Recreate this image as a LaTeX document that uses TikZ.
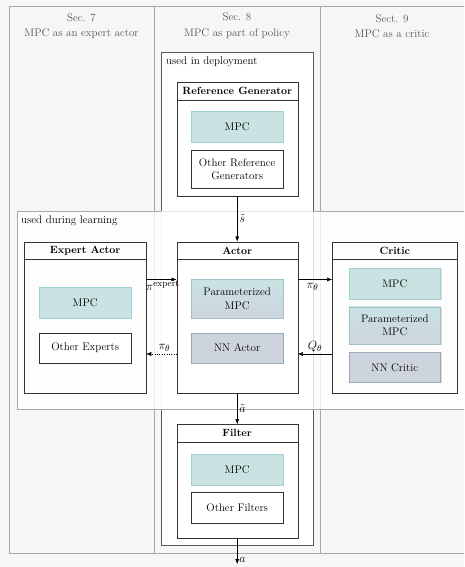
\documentclass[tikz,border=0pt]{standalone}
\usetikzlibrary{arrows.meta,positioning,calc,shadows}
\definecolor{bggray}{HTML}{F6F6F6}
\definecolor{colline}{HTML}{A8A8A8}
\definecolor{headtext}{HTML}{555555}
\definecolor{mpcfill}{HTML}{C9E3E3}
\definecolor{mpcdraw}{HTML}{A3D2D3}
\definecolor{nnfill}{HTML}{CDD4DD}
\definecolor{nndraw}{HTML}{9DA8B4}

\begin{document}
\begin{tikzpicture}[x=1pt,y=-1pt,>={Latex[length=5pt,width=4pt]},
    every node/.style={font=\fontsize{11}{13.5}\selectfont,align=center},
    column/.style={draw=colline,fill=bggray},
    head/.style={text=headtext,font=\fontsize{11}{15.5}\selectfont},
    area/.style={draw=colline,fill=white},
    arealabel/.style={anchor=north west,inner sep=2pt},
    block/.style={draw=black!80,minimum width=121pt},
    blocktitle/.style={anchor=north,minimum height=17.6pt,inner sep=0pt,font=\fontsize{10.5}{13}\selectfont\bfseries},
    inner/.style={minimum width=91.7pt,inner sep=1pt,
      drop shadow={shadow xshift=1pt,shadow yshift=-1pt,opacity=0.25}},
    mpc/.style={inner,draw=mpcdraw,fill=mpcfill},
    pmpc/.style={inner,draw=mpcdraw!60!nndraw,top color=mpcfill,bottom color=nnfill},
    nn/.style={inner,draw=nndraw,fill=nnfill},
    other/.style={inner,draw=black!80,fill=white},
    sig/.style={font=\fontsize{12.5}{14}\selectfont,inner sep=2pt}]
    \clip (0,0) rectangle (464,567);
    \fill[bggray] (0,0) rectangle (464,567);

    \draw[column] (9,6) rectangle (154,553);
    \draw[column] (154,6) rectangle (320,553);
    \draw[column] (320,6) rectangle (480,553);
    \node[head] (h7) at (81.5,26) {Sec. 7\\MPC as an expert actor};
    \node[head] (h8) at (237,26) {Sec. 8\\MPC as part of policy};
    \node[head] (h9) at (392,26) {Sect. 9\\MPC as a critic};

    \draw[area,draw=black!65] (161,52) rectangle (313,545);
    \node[arealabel] (dep) at (164,55) {used in deployment};
    \draw[area,fill opacity=0.8] (17,211) rectangle (480,409);
    \fill[white,opacity=0.7] (161,211) rectangle (313,409);
    \node[arealabel] (learn) at (19,214) {used during learning};

    \node[block,minimum height=113.4pt] (refgen) at (237.2,139) {};
    \node[blocktitle] (refgent) at (refgen.north) {Reference Generator};
    \draw[black!80] (refgent.south -| refgen.west) -- (refgent.south -| refgen.east);
    \node[mpc,minimum height=31.3pt] (rgmpc) at (237.2,126.7) {MPC};
    \node[other,minimum height=38.3pt] (rgother) at (237.2,169.2) {Other Reference\\Generators};

    \node[block,minimum height=151.6pt] (actor) at (237.2,317.5) {};
    \node[blocktitle] (actort) at (actor.north) {Actor};
    \draw[black!80] (actort.south -| actor.west) -- (actort.south -| actor.east);
    \node[pmpc,minimum height=39pt] (acpmpc) at (237.2,298.8) {Parameterized\\MPC};
    \node[nn,minimum height=30.6pt] (acnn) at (237.2,348) {NN Actor};

    \node[block,minimum width=121.7pt,minimum height=151.6pt] (expert) at (85.2,317.5) {};
    \node[blocktitle] (expertt) at (expert.north) {Expert Actor};
    \draw[black!80] (expertt.south -| expert.west) -- (expertt.south -| expert.east);
    \node[mpc,minimum height=31pt] (exmpc) at (85.2,302.8) {MPC};
    \node[other,minimum height=30.6pt] (exother) at (85.2,348) {Other Experts};

    \node[block,minimum width=125pt,minimum height=151.6pt] (critic) at (394.8,317.5) {};
    \node[blocktitle] (critict) at (critic.north) {Critic};
    \draw[black!80] (critict.south -| critic.west) -- (critict.south -| critic.east);
    \node[mpc,minimum height=30.7pt] (crmpc) at (394.8,283.7) {MPC};
    \node[pmpc,minimum height=37.6pt] (crpmpc) at (394.8,325.5) {Parameterized\\MPC};
    \node[nn,minimum height=30pt] (crnn) at (394.8,367.3) {NN Critic};

    \node[block,minimum height=113.4pt] (filter) at (237.2,481) {};
    \node[blocktitle] (filtert) at (filter.north) {Filter};
    \draw[black!80] (filtert.south -| filter.west) -- (filtert.south -| filter.east);
    \node[mpc,minimum height=30.7pt] (fimpc) at (237.2,469.7) {MPC};
    \node[other,minimum height=31pt] (fiother) at (237.2,507.8) {Other Filters};

    \coordinate (out) at (237.2,564);

    \draw[->] (refgen.south) -- node[sig,right] {$\tilde{s}$} (actor.north);
    \draw[->] (actor.south) -- node[sig,right] {$\tilde{a}$} (filter.north);
    \draw[->] (filter.south) -- node[sig,pos=0.85,right] {$a$} (out);
    \draw[->] ($(expert.north east)!0.25!(expert.south east)$) --
      node[sig,pos=0.55,below=1pt,inner sep=0pt] {$\pi^{\mathrm{expert}}$}
      ($(actor.north west)!0.25!(actor.south west)$);
    \draw[->,dotted] ($(actor.north west)!0.74!(actor.south west)$) --
      node[sig,pos=0.4,above] {$\pi_\theta$}
      ($(expert.north east)!0.74!(expert.south east)$);
    \draw[->] ($(actor.north east)!0.25!(actor.south east)$) --
      node[sig,pos=0.43,below=2pt] {$\pi_\theta$}
      ($(critic.north west)!0.25!(critic.south west)$);
    \draw[->] ($(critic.north west)!0.74!(critic.south west)$) --
      node[sig,pos=0.5,above] {$Q_\theta$}
      ($(actor.north east)!0.74!(actor.south east)$);
\end{tikzpicture}
\end{document}
